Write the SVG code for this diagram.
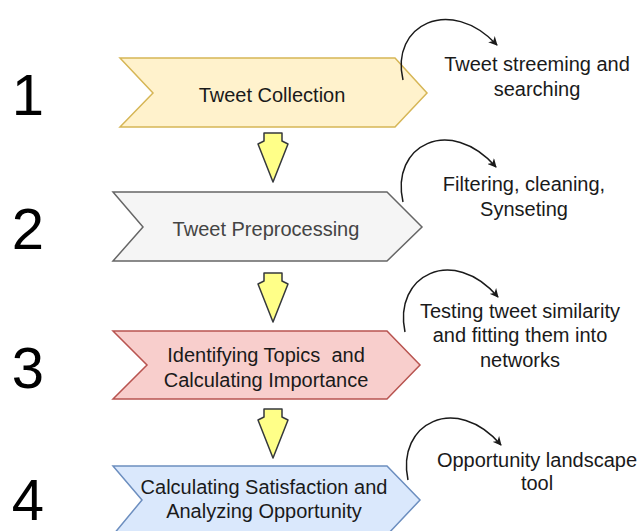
<svg xmlns="http://www.w3.org/2000/svg" width="641" height="531" viewBox="0 0 641 531">
<defs>
<style>
text{font-family:"Liberation Sans",Arial,sans-serif;font-size:20px;fill:#1a1a1a;text-anchor:middle}
.num{font-size:58px;fill:#000}
.down{fill:#ffff88;stroke:#36393d;stroke-width:1.5;stroke-linejoin:round}
.curve{fill:none;stroke:#1a1a1a;stroke-width:1.5}
</style>
<marker id="ah" viewBox="0 0 10 10" refX="9" refY="5" markerWidth="9" markerHeight="9" markerUnits="userSpaceOnUse" orient="auto"><path d="M0,0 L10,5 L0,10 L3,5 Z" fill="#1a1a1a"/></marker>
</defs>
<rect width="641" height="531" fill="#fff"/>
<g id="num1"><text class="num" x="28" y="115">1</text></g>
<g id="num2"><text class="num" x="28" y="249">2</text></g>
<g id="num3"><text class="num" x="28" y="388">3</text></g>
<g id="num4"><text class="num" x="28" y="520">4</text></g>
<g id="step1"><polygon points="120,58 395,58 427,93 395,127 120,127 153,93" fill="#fff2cc" stroke="#d6b656" stroke-width="1.5"/><text x="272" y="102">Tweet Collection</text></g>
<g id="step2"><polygon points="113,192 387,192 422,227 387,261 113,261 143,227" fill="#f5f5f5" stroke="#666666" stroke-width="1.5"/><text x="266" y="236" style="fill:#444">Tweet Preprocessing</text></g>
<g id="step3"><polygon points="113,331 387,331 420,365 387,399 113,399 147,365" fill="#f8cecc" stroke="#b85450" stroke-width="1.5"/><text x="266" y="362" xml:space="preserve">Identifying Topics  and</text><text x="266" y="387">Calculating Importance</text></g>
<g id="step4"><polygon points="113,466 387,466 420,500 387,535 113,535 142,500" fill="#dae8fc" stroke="#6c8ebf" stroke-width="1.5"/><text x="264" y="494">Calculating Satisfaction and</text><text x="264" y="518">Analyzing Opportunity</text></g>
<g id="note1"><text x="537" y="71">Tweet streeming and</text><text x="537" y="96">searching</text></g>
<g id="note2"><text x="524" y="191">Filtering, cleaning,</text><text x="524" y="216">Synseting</text></g>
<g id="note3"><text x="520" y="318">Testing tweet similarity</text><text x="520" y="342">and fitting them into</text><text x="520" y="367">networks</text></g>
<g id="note4"><text x="537" y="467">Opportunity landscape</text><text x="537" y="490">tool</text></g>
<g id="connectors">
<polygon class="down" points="264,133 282,133 282,141 288,144 273,182 258,144 264,141"/>
<polygon class="down" points="264,273 282,273 282,281 288,284 273,322 258,284 264,281"/>
<polygon class="down" points="264,409 282,409 282,417 288,420 273,458 258,420 264,417"/>
<path class="curve" marker-end="url(#ah)" d="M403,80 C390,25 450,-5 497,45"/>
<path class="curve" marker-end="url(#ah)" d="M403,202 C390,145 450,115 496,167"/>
<path class="curve" marker-end="url(#ah)" d="M405,332 C393,275 453,245 498,297"/>
<path class="curve" marker-end="url(#ah)" d="M408,480 C396,423 456,393 501,445"/>
</g>
</svg>
